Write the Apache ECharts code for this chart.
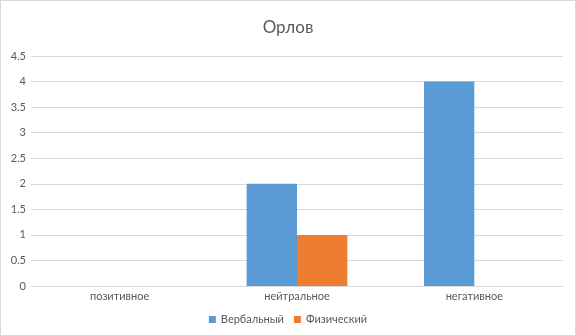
<!DOCTYPE html>
<html><head><meta charset="utf-8">
<script src="https://cdn.jsdelivr.net/npm/echarts@6/dist/echarts.min.js"></script>
<style>html,body{margin:0;padding:0;background:#fff}#c{width:576px;height:336px;box-sizing:border-box;border:1px solid #d9d9d9}</style>
</head><body><div id="c"></div>
<script>
var title = 'Орлов';
var categories = ['позитивное', 'нейтральное', 'негативное'];
var verbal = [0, 2, 4];
var physical = [0, 1, 0];
var seriesNames = ['Вербальный', 'Физический'];
var chart = echarts.init(document.getElementById('c'));
var font = 'Lato, "Liberation Sans", sans-serif';
chart.setOption({
  animation: false,
  textStyle: {fontFamily: font},
  title: {text: title, left: 'center', top: 13, textStyle: {fontFamily: font, fontSize: 17, fontWeight: 'normal', color: '#595959'}},
  legend: {data: seriesNames, bottom: 5, left: 'center', itemWidth: 7, itemHeight: 7, itemGap: 10, icon: 'rect',
    textStyle: {fontFamily: font, fontSize: 11, color: '#595959'}},
  grid: {left: 30, right: 12, top: 55, bottom: 49, containLabel: false},
  xAxis: {type: 'category', data: categories,
    axisLine: {lineStyle: {color: '#d9d9d9'}}, axisTick: {show: false},
    axisLabel: {color: '#595959', fontSize: 11, margin: 5, fontFamily: font}},
  yAxis: {type: 'value', min: 0, max: 4.5, interval: 0.5,
    axisLine: {show: false}, axisTick: {show: false},
    splitLine: {lineStyle: {color: '#d9d9d9'}},
    axisLabel: {color: '#595959', fontSize: 11, margin: 5, fontFamily: font}},
  series: [
    {name: seriesNames[0], type: 'bar', data: verbal, barWidth: '28.4%', barGap: '0%', itemStyle: {color: '#5B9BD5'}},
    {name: seriesNames[1], type: 'bar', data: physical, barWidth: '28.4%', itemStyle: {color: '#ED7D31'}}
  ]
});
</script></body></html>
